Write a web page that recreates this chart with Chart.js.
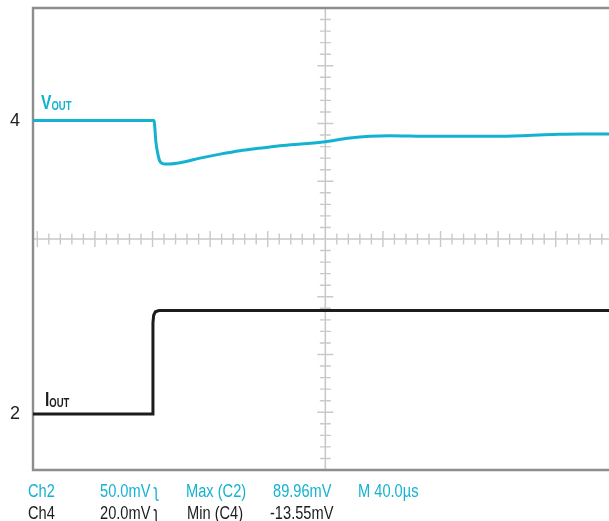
<!DOCTYPE html>
<html>
<head>
<meta charset="utf-8">
<script src="https://cdn.jsdelivr.net/npm/chart.js@4.4.0/dist/chart.umd.min.js"></script>
<style>
html, body { margin: 0; padding: 0; background: #fff; }
</style>
</head>
<body>
<canvas id="scope" width="609" height="521"></canvas>
<script>
// time in µs (40 µs/div), levels in divisions from screen centre
const voutTime  = [0, 84.0, 85.4, 86.8, 88.2, 91.0, 95.1, 102.1, 116.0, 129.9, 143.8, 156.9, 173.6, 201.4, 220.1, 234.0, 247.9, 275.7, 324.3, 361.1, 379.9, 400];
const voutLevel = [2.05, 2.05, 1.67, 1.46, 1.34, 1.30, 1.30, 1.32, 1.40, 1.47, 1.53, 1.57, 1.62, 1.68, 1.75, 1.78, 1.79, 1.78, 1.78, 1.81, 1.82, 1.82];
const ioutTime  = [0, 83.3, 83.3, 83.8, 85.0, 87.5, 400];
const ioutLevel = [-3.03, -3.03, -1.45, -1.32, -1.26, -1.24, -1.24];

const markerLabels = ['4', '2'];
const markerLevels = [2.05, -3.03];

const readoutRow1 = ['Ch2', '50.0mV ʅ', 'Max (C2)', '89.96mV', 'M 40.0µs'];
const readoutRow2 = ['Ch4', '20.0mV ʅ', 'Min (C4)', '-13.55mV'];

const gridCentreTime = 203;
const cyan = '#14b2d1';
const ink = '#1c1c1c';
const sans = '"Liberation Sans", Arial, sans-serif';

function toPoints(xs, ys) {
    return xs.map((x, i) => ({ x: x, y: ys[i] }));
}

// no condensed face installed, so squeeze the normal one
function fillNarrow(ctx, text, x, y, sx) {
    ctx.save();
    ctx.translate(x, y);
    ctx.scale(sx, 1);
    ctx.fillText(text, 0, 0);
    ctx.restore();
    return ctx.measureText(text).width * sx;
}

//graticule: border + centre cross with minor ticks
const graticule = {
    id: 'graticule',
    beforeDatasetsDraw(chart) {
        const ctx = chart.ctx;
        const a = chart.chartArea;
        const xs = chart.scales.x;
        const ys = chart.scales.y;
        const x0 = xs.getPixelForValue(gridCentreTime);
        const y0 = ys.getPixelForValue(0);
        const dx = xs.getPixelForValue(gridCentreTime + 8) - x0;
        const dy = ys.getPixelForValue(0) - ys.getPixelForValue(0.2);

        ctx.save();
        ctx.strokeStyle = '#c9c9c9';
        ctx.lineWidth = 1.6;
        ctx.beginPath();
        ctx.moveTo(a.left, y0); ctx.lineTo(a.right, y0);
        ctx.moveTo(x0, a.top); ctx.lineTo(x0, a.bottom);
        ctx.stroke();

        ctx.lineWidth = 1.4;
        ctx.beginPath();
        for (let k = -60; k <= 60; k++) {
            if (k === 0) continue;
            const len = k % 5 === 0 ? 8 : 5.5;
            const px = x0 + k * dx;
            if (px > a.left + 2 && px < a.right) {
                ctx.moveTo(px, y0 - len); ctx.lineTo(px, y0 + len);
            }
            const py = y0 + k * dy;
            if (py > a.top + 2 && py < a.bottom - 2) {
                ctx.moveTo(x0 - len, py); ctx.lineTo(x0 + len, py);
            }
        }
        ctx.stroke();

        ctx.strokeStyle = '#8d8d8d';
        ctx.lineWidth = 2.4;
        ctx.beginPath();
        ctx.moveTo(a.right + 2, a.top); ctx.lineTo(a.left, a.top);
        ctx.lineTo(a.left, a.bottom); ctx.lineTo(a.right + 2, a.bottom);
        ctx.stroke();
        ctx.restore();
    },
    afterDraw(chart) {
        const ctx = chart.ctx;
        ctx.save();
        ctx.textBaseline = 'alphabetic';
        ctx.textAlign = 'left';

        // trace names
        let w;
        ctx.fillStyle = cyan;
        ctx.font = 'bold 20px ' + sans;
        w = fillNarrow(ctx, 'V', 41, 109, 0.78);
        ctx.font = 'bold 12.5px ' + sans;
        fillNarrow(ctx, 'OUT', 41 + w, 110, 0.76);

        ctx.fillStyle = ink;
        ctx.font = 'bold 20px ' + sans;
        w = fillNarrow(ctx, 'I', 45, 406, 0.78);
        ctx.font = 'bold 12.5px ' + sans;
        fillNarrow(ctx, 'OUT', 45 + w, 407, 0.76);

        // readout
        const cols1 = [28, 100, 186, 273, 358];
        const cols2 = [28, 100, 187, 270];
        ctx.font = '19px ' + sans;
        ctx.fillStyle = cyan;
        readoutRow1.forEach((t, i) => fillNarrow(ctx, t, cols1[i], 497, 0.77));
        ctx.fillStyle = ink;
        readoutRow2.forEach((t, i) => fillNarrow(ctx, t, cols2[i], 519, 0.77));
        ctx.restore();
    }
};

const ctx = document.getElementById('scope').getContext('2d');

let scopeChart = new Chart(ctx, {
    type: 'line',
    data: {
        datasets: [{
            label: 'VOUT',
            data: toPoints(voutTime, voutLevel),
            borderColor: cyan,
            borderWidth: 3,
            pointRadius: 0,
            cubicInterpolationMode: 'monotone'
        }, {
            label: 'IOUT',
            data: toPoints(ioutTime, ioutLevel),
            borderColor: ink,
            borderWidth: 3,
            pointRadius: 0,
            tension: 0
        }]
    },
    options: {
        responsive: false,
        animation: false,
        events: [],
        layout: {
            padding: { left: 0, top: 8, right: 0, bottom: 51 }
        },
        plugins: {
            legend: { display: false },
            tooltip: { enabled: false }
        },
        scales: {
            x: {
                type: 'linear',
                min: 0,
                max: 400,
                display: false
            },
            y: {
                type: 'linear',
                min: -4,
                max: 4,
                grid: { display: false, drawTicks: false, tickLength: 0 },
                border: { display: false },
                afterBuildTicks: s => { s.ticks = markerLevels.map(v => ({ value: v })); },
                afterFit: s => { s.width = 33; s.paddingTop = 0; s.paddingBottom = 0; },
                ticks: {
                    padding: 13,
                    color: '#222',
                    font: { family: sans, size: 18, lineHeight: 0.9 },
                    callback: (v, i) => markerLabels[i]
                }
            }
        }
    },
    plugins: [graticule]
});
</script>
</body>
</html>
